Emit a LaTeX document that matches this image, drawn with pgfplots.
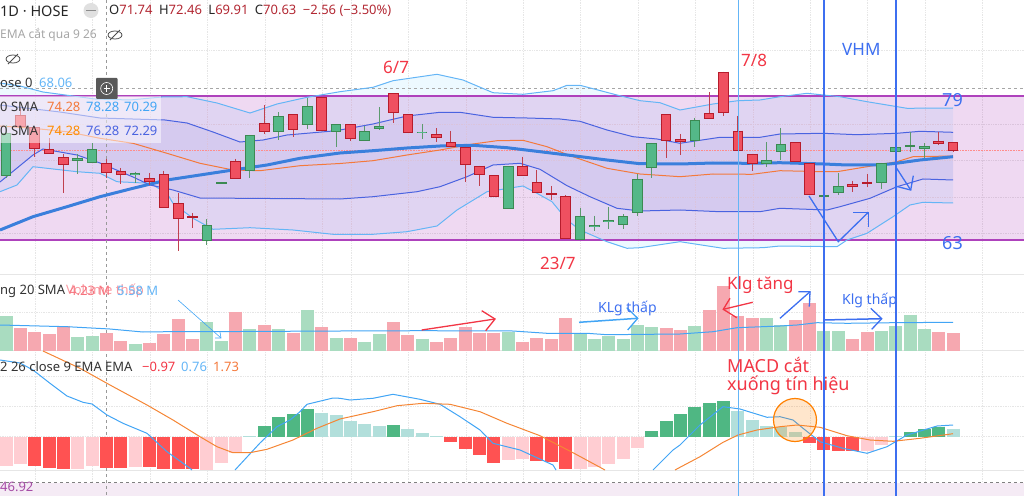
\documentclass[border=0pt]{standalone}
\usepackage{fontspec}
\setmainfont{Liberation Sans}
\newfontfamily\anno{Noto Sans}
\usepackage{pgfplots}
\usepackage{pgfplotstable}
\pgfplotsset{compat=1.18}
\usepgfplotslibrary{fillbetween}
\definecolor{cR}{HTML}{EF5060}\definecolor{cRd}{HTML}{B71C2C}
\definecolor{cG}{HTML}{54B888}\definecolor{cGd}{HTML}{3B8A52}
\definecolor{wR}{HTML}{C0404E}\definecolor{wG}{HTML}{5C9A6E}
\definecolor{vR}{HTML}{F6A8B0}\definecolor{vG}{HTML}{A9DCC0}
\definecolor{mDR}{HTML}{FF5252}\definecolor{mLR}{HTML}{FFCDD2}
\definecolor{mDG}{HTML}{4FB783}\definecolor{mLG}{HTML}{B2DFDB}
\definecolor{outerc}{HTML}{64B5F6}\definecolor{innerc}{HTML}{4A63E0}\definecolor{lineb}{HTML}{42A5F5}
\definecolor{ora}{HTML}{F4793B}\definecolor{thickc}{HTML}{3A7FDC}
\definecolor{boxc}{HTML}{A020B0}\definecolor{pen}{HTML}{3D6FF0}\definecolor{rd}{HTML}{F23645}
\definecolor{hdr}{HTML}{B22833}\definecolor{gridc}{HTML}{E6E6E6}
% candles: index, body top, body bottom, wick high, wick low (pixel rows, down)
\pgfplotstableread{
i t b h l
1 115 127 108 127
2 127.3 149.3 127.3 156.7
3 149.3 154.3 138 154.3
4 157.3 165.3 154 192.7
7 162.7 172.7 159 178
8 170.7 175.3 168 184
10 178.3 182.3 173 185
11 174.3 208.3 170.7 208.3
12 203.3 219.3 192.7 250.7
13 216.3 218.3 213 227.7
16 161.3 178.7 158.7 178.7
18 123.3 131.7 105.3 134.3
20 114.3 129.7 114.3 137.3
22 96.7 131.3 96.7 131.3
24 124.3 138.7 124.3 140.7
27 93.3 113.3 93.3 122.7
28 114.3 132.7 114.3 132.7
30 134.3 138.3 128.3 141.7
31 142.3 146.7 131 146.7
32 146.7 165 146.7 181.7
33 165.7 175.3 165.7 185.7
34 175.3 197.3 175.3 197.3
36 166.3 176.3 156.7 176.3
37 182.3 192.7 170 192.7
38 193.3 195.3 186 200
39 196.3 239.3 195 239.3
46 114.3 141.3 114.3 157.7
47 139.3 142.3 134 155
49 113.3 119 92.3 119
50 71.7 113.3 71.7 116
51 130.7 151 116 151
52 153.7 164 153.7 170.7
55 142.3 162 142.3 162
56 162.7 195 162.7 195
59 184.3 186.7 180.7 191.7
60 181.7 183.7 174.3 186.7
65 140.7 143.7 131.7 145.3
66 142.3 151 142.3 152
}\candR
\pgfplotstableread{
i t b h l
0 133.3 175.7 125 178
5 158.3 161.3 154 174.3
6 149.3 162.7 143 162.7
9 172.7 175 171.7 183.3
14 225 241 219.3 245
15 182 184 182 184
17 135 170.7 135 177.7
19 116 131.7 112.3 140
21 105.7 125.3 98 129.3
23 124.3 131.7 124.3 146.7
25 131.3 140.7 126 140.7
26 126 128.7 107.3 130
29 131.7 133 124 139.3
35 166.3 208.7 166.3 208.7
40 215.7 240 208.3 240
41 224.7 227.3 215.7 231
42 220.3 222 207.3 229.3
43 216 225 214 229.3
44 178.7 213.3 174 215.7
45 143 167.7 143 178.3
48 119.7 140.7 118 146.7
53 159.7 164.3 142.3 167.3
54 144 152 128.3 160
57 194.7 196.7 181 209.3
58 186 192.7 173.3 194.7
61 163.3 183.3 163 189
62 147.3 152.3 147.3 161.7
63 145 147 131.7 152.3
64 145.7 148.7 143.3 158.3
}\candG
% volume bars: index, top row
\pgfplotstableread{
i y
1 328.3
2 332
3 334.3
4 325.7
7 333.3
8 341.3
10 342.7
11 333.7
12 319
13 339.3
16 311.7
18 325
20 332.7
22 327
24 338
27 322.3
28 335
30 342.3
31 338
32 327
33 333
34 332.7
36 341.7
37 338
38 339.3
39 318.3
46 328
47 330
49 309.7
50 286
51 315.7
52 318.3
55 320.3
56 303.3
59 339.3
60 332
65 332
66 333
}\volR
\pgfplotstableread{
i y
0 316
5 337.3
6 336
9 343.7
14 322
15 341
17 329.3
19 329.3
21 310
23 338
25 341.7
26 334.3
29 338.7
35 331.7
40 333.3
41 338.7
42 335.7
43 339.3
44 325
45 327
48 325.7
53 318.3
54 325
57 330.7
58 331.3
61 330.7
62 326
63 314.7
64 329.3
}\volG
% MACD histogram
\pgfplotstableread{
i y
2 466
3 467.7
4 469.3
7 467.7
8 467.7
10 466.7
11 469.3
12 469.3
13 469.3
31 441.7
32 449
33 455
34 462.7
37 461.3
38 462
39 469.3
56 443
57 450
58 451.3
59 451.3
}\mDR
\pgfplotstableread{
i y
0 466
1 464.3
5 469
6 466
9 466.7
14 470
15 462.7
16 453.3
35 460
36 459.3
40 469.3
41 467.3
42 464.3
43 459.3
44 447.7
60 450.7
61 445
}\mLR
\pgfplotstableread{
i y
18 426
19 417
20 414
21 409
27 425
45 431
46 420.7
47 414
48 406.7
49 403.3
50 401.3
63 432.3
64 429
65 426.7
}\mDG
\pgfplotstableread{
i y
17 436
22 412.7
23 415
24 420.7
25 423.7
26 425.7
28 429.3
29 433
30 436
51 410.7
52 420
53 426
54 427.3
55 432.3
62 436
66 428.7
}\mLG
\pgfplotsset{
 ebar/.style n args={2}{draw=none,mark=none,forget plot,
  error bars/.cd,y dir=plus,y explicit,error mark=none,
  error bar style={line width=#1,color=#2,line cap=butt,solid}},
}
\newcommand\Wick[2]{\addplot[ebar={1pt}{#2}] table[x expr=6+14.35*\thisrow{i},y=h,y error plus expr=\thisrow{l}-\thisrow{h}]{#1};}
\newcommand\BodyO[2]{\addplot[ebar={10.6pt}{#2}] table[x expr=6+14.35*\thisrow{i},y=t,y error plus expr=\thisrow{b}-\thisrow{t}]{#1};}
\newcommand\BodyI[2]{\addplot[ebar={8.6pt}{#2}] table[x expr=6+14.35*\thisrow{i},y expr=\thisrow{t}+1,y error plus expr=\thisrow{b}-\thisrow{t}-2]{#1};}
\newcommand\VolB[2]{\addplot[ebar={13pt}{#2}] table[x expr=6+14.35*\thisrow{i},y=y,y error plus expr=350.5-\thisrow{y}]{#1};}
\newcommand\MacdUp[2]{\addplot[ebar={13pt}{#2}] table[x expr=6+14.35*\thisrow{i},y=y,y error plus expr=436.7-\thisrow{y}]{#1};}
\newcommand\MacdDn[2]{\addplot[ebar={13pt}{#2}] table[x expr=6+14.35*\thisrow{i},y expr=436.7,y error plus expr=\thisrow{y}-436.7]{#1};}
\newcommand\TF[4]{\node[anchor=west,inner sep=0pt] at (axis cs:#2,#3) {\fontsize{#1}{#1}\selectfont #4};}
\newcommand\Eye[2]{\draw[black!70,line width=.8pt] (axis cs:#1,#2) ellipse[x radius=7,y radius=4];
 \draw[black!70,line width=.8pt] (axis cs:#1-5,#2+5)--(axis cs:#1+5,#2-5);}
\begin{document}
\begin{tikzpicture}
\begin{axis}[anchor=south west,at={(0pt,0pt)},scale only axis,width=1024pt,height=496pt,
 xmin=0,xmax=1024,ymin=0,ymax=496,y dir=reverse,hide axis,clip=true,clip mode=individual]
% page grid
\pgfplotsinvokeforeach{35,92,150,207,265,322,351,408,466,523,580,638,695,753,810,867,925,982}{
 \addplot[gridc,densely dotted,line width=.7pt,forget plot] coordinates {(#1,0)(#1,482)};}
\pgfplotsinvokeforeach{50,124,160,197,233,312,376,406,436.7}{
 \addplot[gridc,densely dotted,line width=.7pt,forget plot] coordinates {(0,#1)(1024,#1)};}
\addplot[gridc,line width=.8pt,forget plot] coordinates {(0,274)(1024,274)};
\addplot[gridc,line width=.8pt,forget plot] coordinates {(0,350.7)(1024,350.7)};
\addplot[gridc,line width=.8pt,forget plot] coordinates {(0,470.5)(1024,470.5)};
% lavender bottom scale
\addplot[draw=none,fill=violet!8,forget plot] coordinates {(0,482.5)(1024,482.5)(1024,496)(0,496)} --cycle;
\addplot[gray,dashed,line width=.7pt,forget plot] coordinates {(0,482.5)(1024,482.5)};
% outer band area
\addplot[draw=none,name path=ou,forget plot] coordinates {(0,83)(20,86)(43,92)(95,99)(130,100)(162,97)(187,96.7)(217,103)(250,113)(277,104)(307,97.3)(340,91.7)(373,87.3)(393,80.7)(437,74.3)(463,80)(493,92.7)(523,94.3)(553,90.7)(567,85.3)(580,85.3)(617,95)(640,100.7)(660,102.7)(680,110)(713,104)(738,100.7)(760,100)(780,96.7)(807,93.3)(840,96.7)(867,101.7)(907,108.3)(953,108)};
\addplot[draw=none,name path=ol,forget plot] coordinates {(0,191.7)(17,185)(33,166.7)(77,171.7)(100,173.3)(117,181.7)(150,183.3)(167,193.3)(173,203.3)(193,218.3)(213,229.3)(250,227.7)(293,230)(333,234.3)(373,234.3)(407,231.7)(437,226)(457,210)(487,191.7)(523,186)(537,193.3)(552,201.7)(567,220)(580,230)(607,241.7)(627,248.3)(640,247.7)(680,241.7)(723,248.3)(763,247.7)(780,246)(837,246.7)(847,240)(867,233.3)(893,216.7)(910,205)(923,202.3)(953,203)};
\addplot[fill=blue!35!cyan,fill opacity=.07,draw=none,forget plot] fill between[of=ou and ol];
% purple range box
\addplot[draw=none,fill=boxc,fill opacity=.17,forget plot] coordinates {(0,96)(1024,96)(1024,239.5)(0,239.5)} --cycle;
% inner band area
\addplot[draw=none,name path=iu,forget plot] coordinates {(0,105)(60,112)(100,118)(165,120)(187,123)(213,132)(240,142)(263,140)(287,135)(333,131)(340,130)(373,124)(407,116)(440,112.3)(460,112.3)(493,117.3)(527,118)(560,119)(580,121.3)(607,130)(633,136.7)(657,139)(680,143.3)(720,137.3)(760,137.3)(780,134)(823,133.3)(857,134.7)(897,133.3)(920,131.3)(953,132.3)};
\addplot[draw=none,name path=il,forget plot] coordinates {(0,182)(33,155)(43,149)(77,155)(100,163)(133,177)(150,185)(173,190)(200,198)(340,199)(373,196.7)(417,191.7)(440,186.7)(467,176.7)(493,165)(520,163.3)(540,169.3)(567,185.7)(590,196.7)(617,208.3)(640,211)(680,210)(720,211.7)(760,211.7)(780,208.3)(827,210)(840,206.7)(870,198.3)(897,186.7)(923,179)(953,180)};
\addplot[fill=innerc,fill opacity=.08,draw=none,forget plot] fill between[of=iu and il];
% box edges
\addplot[boxc!85!white,line width=2pt,forget plot] coordinates {(0,96)(1024,96)};
\addplot[boxc!85!white,line width=2pt,forget plot] coordinates {(0,239.5)(1024,239.5)};
% current price + crosshair rows
\addplot[red!45,densely dotted,line width=.6pt,forget plot] coordinates {(0,150.7)(1024,150.7)};
\addplot[gray!70,dashed,line width=.7pt,forget plot] coordinates {(0,88)(1024,88)};
\addplot[gray!80,dashed,line width=.7pt,forget plot] coordinates {(106.5,0)(106.5,496)};
% band lines
\addplot[outerc,line width=1pt,forget plot] coordinates {(0,83)(20,86)(43,92)(95,99)(130,100)(162,97)(187,96.7)(217,103)(250,113)(277,104)(307,97.3)(340,91.7)(373,87.3)(393,80.7)(437,74.3)(463,80)(493,92.7)(523,94.3)(553,90.7)(567,85.3)(580,85.3)(617,95)(640,100.7)(660,102.7)(680,110)(713,104)(738,100.7)(760,100)(780,96.7)(807,93.3)(840,96.7)(867,101.7)(907,108.3)(953,108)};
\addplot[outerc,line width=1pt,forget plot] coordinates {(0,191.7)(17,185)(33,166.7)(77,171.7)(100,173.3)(117,181.7)(150,183.3)(167,193.3)(173,203.3)(193,218.3)(213,229.3)(250,227.7)(293,230)(333,234.3)(373,234.3)(407,231.7)(437,226)(457,210)(487,191.7)(523,186)(537,193.3)(552,201.7)(567,220)(580,230)(607,241.7)(627,248.3)(640,247.7)(680,241.7)(723,248.3)(763,247.7)(780,246)(837,246.7)(847,240)(867,233.3)(893,216.7)(910,205)(923,202.3)(953,203)};
\addplot[innerc,line width=1pt,forget plot] coordinates {(0,105)(60,112)(100,118)(165,120)(187,123)(213,132)(240,142)(263,140)(287,135)(333,131)(340,130)(373,124)(407,116)(440,112.3)(460,112.3)(493,117.3)(527,118)(560,119)(580,121.3)(607,130)(633,136.7)(657,139)(680,143.3)(720,137.3)(760,137.3)(780,134)(823,133.3)(857,134.7)(897,133.3)(920,131.3)(953,132.3)};
\addplot[innerc,line width=1pt,forget plot] coordinates {(0,182)(33,155)(43,149)(77,155)(100,163)(133,177)(150,185)(173,190)(200,198)(340,199)(373,196.7)(417,191.7)(440,186.7)(467,176.7)(493,165)(520,163.3)(540,169.3)(567,185.7)(590,196.7)(617,208.3)(640,211)(680,210)(720,211.7)(760,211.7)(780,208.3)(827,210)(840,206.7)(870,198.3)(897,186.7)(923,179)(953,180)};
% orange basis
\addplot[ora,line width=1pt,forget plot] coordinates {(0,126)(33,128.3)(67,131.7)(100,138.3)(133,143.3)(167,153.3)(200,163.3)(233,170)(260,170.7)(300,165.7)(340,163.5)(373,160.7)(407,155)(440,150)(473,144)(497,140.7)(523,140.3)(547,146.7)(573,156.7)(607,168.3)(640,174)(680,176.7)(713,174)(752,174.3)(780,170.7)(823,171.7)(837,171.7)(867,166.7)(897,161.7)(913,156.7)(953,156)};
% thick long MA
\addplot[thickc,line width=3pt,forget plot] coordinates {(0,230)(33,216.7)(67,206.7)(100,196.7)(133,188.3)(167,180)(200,175)(233,170)(267,165)(300,158.3)(340,153)(373,150.7)(407,148)(440,146)(473,145.3)(507,147.7)(540,151.7)(573,155.7)(607,160)(640,163.7)(680,164)(713,163)(747,163.3)(780,162.7)(824,164)(847,165)(880,165)(896,163.3)(920,160)(953,156.7)};
% candles
\Wick{\candR}{wR}\Wick{\candG}{wG}
\BodyO{\candR}{cRd}\BodyO{\candG}{cGd}
\BodyI{\candR}{cR}\BodyI{\candG}{cG}
% legend wash
\addplot[draw=none,fill=white,fill opacity=.5,forget plot] coordinates {(0,96)(161,96)(161,143)(0,143)} --cycle;
% volume
\VolB{\volR}{vR}\VolB{\volG}{vG}
\addplot[lineb,line width=1pt,forget plot] coordinates {(0,325)(67,326.7)(110,329)(143,332)(167,331.7)(200,331.7)(340,331)(423,330.7)(513,331)(547,333.3)(587,333.3)(607,334.7)(680,334)(713,331.7)(737,327.7)(780,326)(797,325)(817,322.7)(847,323.3)(893,322.7)(953,322.3)};
% MACD hist
\MacdDn{\mDR}{mDR}\MacdDn{\mLR}{mLR}\MacdUp{\mDG}{mDG}\MacdUp{\mLG}{mLG}
\addplot[lineb,line width=1pt,forget plot] coordinates {(0,360)(20,363)(33,370)(50,383.3)(67,396)(83,402.3)(92,404)(107,415)(123,423.3)(147,433.3)(167,451.7)(190,468.3)(192,470)};
\addplot[lineb,line width=1pt,forget plot] coordinates {(235,470)(260,443)(277,426.7)(290,420)(300,411.7)(307,404.3)(333,398)(340,398.3)(350,400)(373,398.3)(393,394.3)(420,399.3)(440,404.3)(460,416.7)(480,430)(493,443.3)(520,450)(553,465)(556,470)};
\addplot[lineb,line width=1pt,forget plot] coordinates {(653,470)(673,450)(680,445)(700,425)(723,406.7)(740,409)(767,417.3)(780,416.7)(793,420)(803,428.3)(820,441.7)(843,448.3)(867,453.3)(887,446.7)(907,435)(937,426)(953,425)};
\addplot[ora!90!yellow,line width=1pt,forget plot] coordinates {(43,351)(80,368.3)(110,385)(147,405)(173,420)(200,436.7)(217,446.7)(233,452.7)(250,452.7)(267,449.3)(293,440)(317,428.3)(340,419)(373,411.7)(397,405.7)(423,403.3)(450,404.3)(480,411.7)(507,423.3)(540,435.7)(573,452.7)(605,470)};
\addplot[ora!90!yellow,line width=1pt,forget plot] coordinates {(675,470)(680,467.3)(700,456.7)(723,442.3)(738,435)(757,430)(780,426.7)(797,425)(820,427.3)(847,435.7)(870,440)(893,441.3)(920,438.3)(953,433.7)};
% circle
\draw[orange,line width=1.2pt,fill=orange,fill opacity=.2,draw opacity=1] (axis cs:795,420) ellipse[x radius=21.5,y radius=21.5];
% tall verticals
\addplot[outerc,line width=1pt,forget plot] coordinates {(738.3,0)(738.3,496)};
\addplot[pen,line width=1.5pt,forget plot] coordinates {(824,0)(824,496)};
\addplot[pen,line width=1.5pt,forget plot] coordinates {(896,0)(896,496)};
% pen arrows
\addplot[pen,line width=1.3pt,forget plot] coordinates {(809,196)(838.3,241.7)(868.3,212.3)};
\addplot[pen,line width=1.3pt,forget plot] coordinates {(853.3,212.3)(868.3,212.3)(868.3,226.7)};
\addplot[pen,line width=1.3pt,forget plot] coordinates {(896,167.3)(910.7,190)};
\addplot[pen,line width=1.3pt,forget plot] coordinates {(895,186)(910.7,190)(913.3,175.7)};
\addplot[lineb,line width=.6pt,forget plot] coordinates {(178,300)(221,338)};
\addplot[lineb,line width=.6pt,forget plot] coordinates {(220,332)(221,338)(215,338)};
\addplot[rd,line width=1.3pt,forget plot] coordinates {(421.7,330)(495,319)};
\addplot[rd,line width=1.3pt,forget plot] coordinates {(481.7,310.7)(495,319)(485.7,330.7)};
\addplot[lineb,line width=1.5pt,forget plot] coordinates {(579,322.3)(637.7,318.3)};
\addplot[lineb,line width=1.3pt,forget plot] coordinates {(626.7,307.7)(637.7,318.3)(627.7,330)};
\addplot[rd,line width=1.3pt,forget plot] coordinates {(752.7,302.3)(723.3,309.3)};
\addplot[rd,line width=1.3pt,forget plot] coordinates {(730,298.3)(723.3,309.3)(736.7,317.7)};
\addplot[pen,line width=1.3pt,forget plot] coordinates {(780,318.3)(810,291.7)};
\addplot[pen,line width=1.3pt,forget plot] coordinates {(798.3,291.7)(810,291.7)(809.3,306.7)};
\addplot[pen,line width=1.5pt,forget plot] coordinates {(823.3,320)(881.7,318.7)};
\addplot[pen,line width=1.3pt,forget plot] coordinates {(870.7,308.3)(881.7,318.7)(871.7,329.3)};
% plus button
\draw[draw=none,fill=black!65,rounded corners=1pt] (axis cs:96,78) rectangle (axis cs:117.5,99);
\draw[white,line width=.6pt] (axis cs:106.7,88.5) circle[radius=6pt];
\draw[white,line width=.6pt] (axis cs:103.5,88.5)--(axis cs:110,88.5) (axis cs:106.7,85.3)--(axis cs:106.7,91.7);
\end{axis}
\begin{axis}[anchor=south west,at={(0pt,0pt)},scale only axis,width=1024pt,height=496pt,
 xmin=0,xmax=1024,ymin=0,ymax=496,y dir=reverse,hide axis,clip=false]
\addplot[draw=none,forget plot] coordinates {(0,0)(1024,496)};
% header text
\TF{14.5}{0}{11}{\color{black!85}1D · HOSE}
\fill[black!12] (axis cs:91,10.5) circle[radius=7.5pt];
\fill[black!45] (axis cs:86,9.7) rectangle (axis cs:96,11.3);
\TF{13}{109}{10.5}{\color{black!85}O\textcolor{hdr}{71.74}\enspace H\textcolor{hdr}{72.46}\enspace L\textcolor{hdr}{69.91}\enspace C\textcolor{hdr}{70.63}\enspace\textcolor{hdr}{−2.56 (−3.50\%)}}
\TF{12}{0}{34.5}{\color{black!35}EMA cắt qua 9 26}
\Eye{115}{35}\Eye{13}{59}
\TF{13}{0}{83}{\color{black!80}ose 0}
\TF{13}{39}{83}{\color{outerc}68.06}
\TF{13}{0}{107}{\color{black!80}0 SMA}
\TF{13}{47}{107}{\color{ora}74.28}
\TF{13}{86}{107}{\color{lineb}78.28}
\TF{13}{124}{107}{\color{lineb}70.29}
\TF{13}{0}{131}{\color{black!80}0 SMA}
\TF{13}{47}{131}{\color{orange!90!yellow}74.28}
\TF{13}{86}{131}{\color{innerc}76.28}
\TF{13}{124}{131}{\color{innerc}72.29}
\TF{13}{0}{291}{\color{black!80}ng 20 SMA}
\TF{13}{66}{291}{\color{rd!50}Volume thấp}
\TF{13}{69}{291}{\color{rd!70}4.23 M}
\TF{13}{117}{291}{\color{outerc}5.58 M}
\TF{13}{0}{367}{\color{black!80}2 26 close 9 EMA EMA}
\TF{13}{142}{367}{\color{rd}−0.97}
\TF{13}{181}{367}{\color{outerc}0.76}
\TF{13}{213}{367}{\color{ora}1.73}
\TF{13}{0}{487}{\color{violet!70}46.92}
% annotations
\anno
\TF{17}{383}{67}{\color{rd}6/7}
\TF{17}{741}{60}{\color{rd}7/8}
\TF{17}{540}{263}{\color{rd}23/7}
\TF{17}{842}{49}{\color{pen}VHM}
\TF{18}{942}{100}{\color{pen}79}
\TF{18}{942}{243}{\color{pen}63}
\TF{17}{727}{285}{\color{rd}Klg tăng}
\TF{14}{598}{308}{\color{pen}KLg thấp}
\TF{14}{842}{300}{\color{pen}Klg thấp}
\TF{18}{727}{365}{\color{rd}MACD cắt}
\TF{18}{727}{385}{\color{rd}xuống tín hiệu}
\end{axis}
\pgfresetboundingbox
\path[use as bounding box] (0pt,0pt) rectangle (1024pt,496pt);
\end{tikzpicture}
\end{document}
